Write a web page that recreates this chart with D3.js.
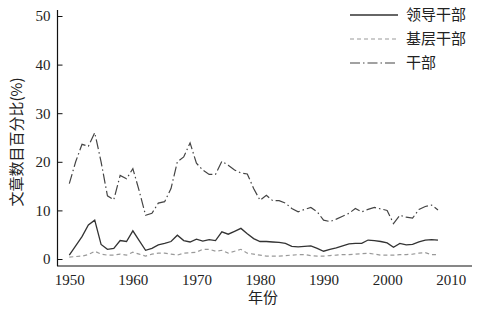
<!DOCTYPE html>
<html>
<head>
<meta charset="utf-8">
<script src="https://cdn.jsdelivr.net/npm/d3@7"></script>
<style>
  body { margin: 0; background: #fff; }
  svg { display: block; }
  .tick text { font-family: "Liberation Serif", "Times New Roman", serif; font-size: 15px; fill: #222; }
  .cjk { font-family: "Noto Sans CJK SC", sans-serif; font-size: 15px; fill: #222; }
</style>
</head>
<body>
<div class="chart"></div>
<script>
// years 1950..2008
const years = d3.range(1950, 2009);

// 领导干部 (solid)
const leaders = [
  0.8, 2.7, 4.6, 7.0, 8.0, 3.0, 2.0, 2.2, 3.8, 3.6,
  5.8, 3.8, 1.8, 2.2, 2.9, 3.2, 3.6, 4.9, 3.8, 3.5,
  4.1, 3.7, 4.0, 3.8, 5.6, 5.1, 5.7, 6.3, 5.2, 4.2,
  3.6, 3.6, 3.5, 3.4, 3.2, 2.6, 2.5, 2.6, 2.7, 2.2,
  1.6, 2.0, 2.3, 2.7, 3.1, 3.2, 3.2, 3.9, 3.8, 3.6,
  3.3, 2.4, 3.2, 2.9, 3.0, 3.5, 3.9, 4.0, 3.9
];

// 基层干部 (dashed)
const grassroots = [
  0.4, 0.5, 0.6, 0.9, 1.6, 1.0, 0.8, 0.8, 1.0, 0.8,
  1.4, 1.0, 0.6, 1.0, 1.2, 1.2, 1.0, 0.8, 1.2, 1.3,
  1.4, 2.0, 2.0, 1.6, 1.8, 1.2, 1.6, 2.0, 1.2, 1.0,
  0.8, 0.6, 0.6, 0.6, 0.7, 0.8, 0.9, 0.9, 0.7, 0.6,
  0.6, 0.7, 0.8, 0.9, 0.9, 1.0, 1.1, 1.2, 1.0, 0.8,
  0.8, 0.8, 0.9, 0.9, 1.0, 1.2, 1.3, 0.9, 0.9
];

// 干部 (dash-dot)
const cadres = [
  15.5, 20.0, 23.6, 23.2, 26.0, 20.0, 13.0, 12.2, 17.2, 16.5,
  18.6, 14.0, 9.0, 9.4, 11.5, 11.8, 14.5, 20.0, 21.0, 23.9,
  19.7, 18.3, 17.4, 17.4, 20.1, 19.3, 18.3, 17.7, 17.5, 14.5,
  12.1, 13.1, 12.0, 12.0, 11.5, 10.4, 9.7, 10.2, 10.6, 9.7,
  8.0, 7.7, 8.2, 8.8, 9.4, 10.4, 9.7, 10.2, 10.6, 10.3,
  10.0, 7.3, 9.0, 8.6, 8.4, 10.2, 10.8, 11.1, 10.1
];

const xTicks = [1950, 1960, 1970, 1980, 1990, 2000, 2010];
const yTicks = [0, 10, 20, 30, 40, 50];

const series = [
  { name: "领导干部", values: leaders, color: "#333", width: 1.3, dash: null },
  { name: "基层干部", values: grassroots, color: "#999", width: 1.2, dash: "4,3" },
  { name: "干部", values: cadres, color: "#444", width: 1.2, dash: "10,3,1.5,3" }
];

const width = 484, height = 312;

const svg = d3.select(".chart").append("svg")
  .attr("width", width)
  .attr("height", height);

const x = d3.scaleLinear().domain([1950, 2010]).range([69.3, 450.7]);
const y = d3.scaleLinear().domain([0, 50]).range([259, 16]);

// x axis
const xAxis = svg.append("g")
  .attr("transform", "translate(0,266)")
  .call(d3.axisBottom(x).tickValues(xTicks).tickFormat(d3.format("d")).tickSize(0).tickPadding(8));
xAxis.select(".domain").remove();
svg.append("line")
  .attr("x1", 57).attr("x2", 472)
  .attr("y1", 266).attr("y2", 266)
  .attr("stroke", "#111").attr("stroke-width", 1.2);

// y axis, ticks pointing inward
const yAxis = svg.append("g")
  .attr("transform", "translate(57.5,0)")
  .call(d3.axisLeft(y).tickValues(yTicks).tickSizeInner(-5).tickSizeOuter(0).tickPadding(7));
yAxis.select(".domain").remove();
yAxis.selectAll(".tick line").attr("stroke", "#111");
svg.append("line")
  .attr("x1", 57.5).attr("x2", 57.5)
  .attr("y1", 10).attr("y2", 266)
  .attr("stroke", "#111").attr("stroke-width", 1.2);

// lines
const line = d3.line()
  .x((d, i) => x(years[i]))
  .y(d => y(d));

svg.append("g").selectAll("path")
  .data(series)
  .join("path")
  .attr("d", d => line(d.values))
  .attr("fill", "none")
  .attr("stroke", d => d.color)
  .attr("stroke-width", d => d.width)
  .attr("stroke-dasharray", d => d.dash);

// legend
const legend = svg.append("g").selectAll("g")
  .data(series)
  .join("g")
  .attr("transform", (d, i) => `translate(350, ${15 + i * 24})`);

legend.append("line")
  .attr("x1", 0).attr("x2", 48)
  .attr("stroke", d => d.color)
  .attr("stroke-width", d => d.width)
  .attr("stroke-dasharray", d => d.dash);

legend.append("text")
  .attr("class", "cjk")
  .attr("x", 56)
  .attr("dy", "0.35em")
  .text(d => d.name);

// axis titles
svg.append("text")
  .attr("class", "cjk")
  .attr("x", 263).attr("y", 303)
  .attr("text-anchor", "middle")
  .text("年份");

svg.append("text")
  .attr("class", "cjk")
  .attr("transform", "translate(22,142) rotate(-90)")
  .attr("text-anchor", "middle")
  .text("文章数目百分比(%)");
</script>
</body>
</html>
